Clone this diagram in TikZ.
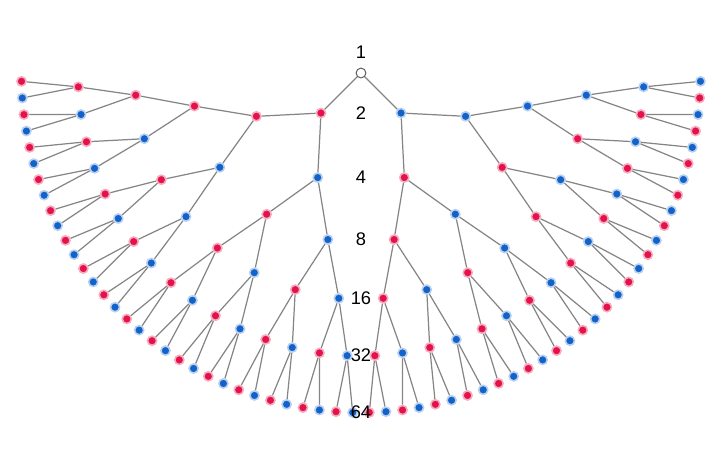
\documentclass[tikz,border=0pt]{standalone}
\usepackage{fontspec}
\setmainfont{Liberation Sans}
\definecolor{dotred}{HTML}{E3124B}
\definecolor{dotblue}{HTML}{1262C9}
\definecolor{edgegray}{HTML}{858585}
\tikzset{
  dot/.style={circle, inner sep=0pt, minimum size=5.2pt, line width=0.9pt},
  reddot/.style={dot, fill=dotred, draw=dotred!35},
  bluedot/.style={dot, fill=dotblue, draw=dotblue!30},
  rootdot/.style={circle, inner sep=0pt, minimum size=5.6pt, draw=black!60, fill=white, line width=0.6pt},
  branch/.style={draw=edgegray, line width=0.7pt},
  levelnum/.style={font=\fontsize{10.4}{12}\selectfont, text=black}
}

\begin{document}
\begin{tikzpicture}[x=0.02cm, y=0.02cm]
    \useasboundingbox (-361,73) rectangle (359,-378);
    \node[rootdot] (n-0-0) at (0,0) {};
    \node[levelnum] at (0,21) {1};
    \foreach \k in {1,...,6} {
      \pgfmathtruncatemacro{\cnt}{2^\k-1}
      \pgfmathtruncatemacro{\km}{\k-1}
      \pgfmathsetmacro{\rad}{56.6*\k}
      \foreach \i in {0,...,\cnt} {
        \pgfmathsetmacro{\ang}{180+(\i+0.5)*180/2^\k}
        \pgfmathtruncatemacro{\up}{floor(\i/2)}
        \pgfmathtruncatemacro{\odd}{mod(\i,2)}
        \ifnum\odd=0 \def\tone{reddot}\else\def\tone{bluedot}\fi
        \node[\tone] (n-\k-\i) at (\ang:\rad) {};
        \draw[branch] (n-\km-\up) -- (n-\k-\i);
      }
      \pgfmathtruncatemacro{\mid}{2^(\k-1)-1}
      \pgfmathtruncatemacro{\num}{2^\k}
      \node[levelnum] at (n-0-0 |- n-\k-\mid) {\num};
    }
  \end{tikzpicture}
\end{document}
